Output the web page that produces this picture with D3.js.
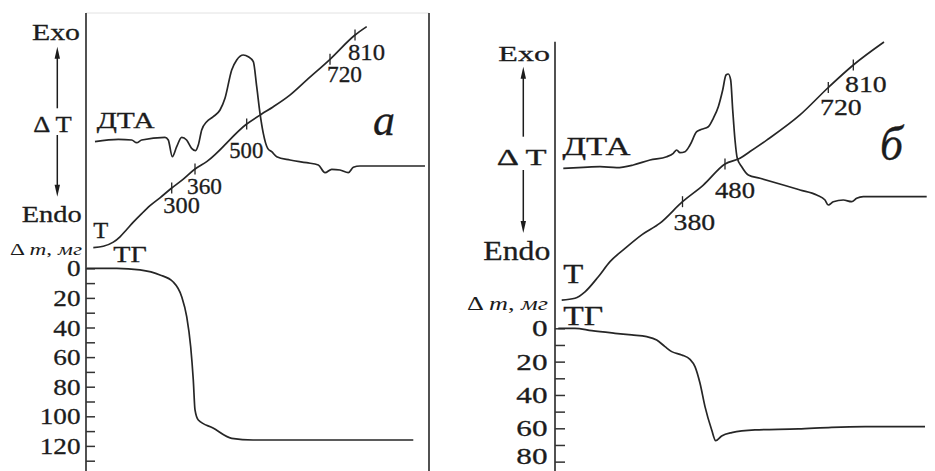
<!DOCTYPE html>
<html><head><meta charset="utf-8">
<script src="https://cdn.jsdelivr.net/npm/d3@7"></script>
<style>html,body{margin:0;padding:0;background:#fff;} svg{display:block}</style>
</head><body>
<svg id="chart" width="935" height="471"></svg>
<script>
// ---------------- DATA (time in relative minutes 0..100) ----------------
// Panel a
const dtaA = [[2.62,5.52],[9.42,6.07],[13.32,5.91],[14.78,5.30],[16.24,5.91],[23.03,6.52],[23.99,5.91],[25.16,2.11],[26.44,4.39],[27.90,6.52],[29.33,5.91],[30.79,4.02],[31.95,3.48],[32.74,4.77],[33.73,8.18],[35.19,10.07],[37.11,11.20],[39.07,12.73],[40.52,15.39],[42.48,21.82],[43.94,24.09],[45.86,25.23],[47.32,24.84],[48.78,23.70],[49.77,18.02],[50.73,11.98],[51.69,7.43],[52.97,4.02],[54.14,3.25],[55.60,2.11],[59.48,1.36],[64.34,0.75],[67.73,0.23],[69.68,-1.52],[71.63,-0.75],[74.05,-0.91],[76.47,-1.52],[77.93,-0.30],[79.88,0],[98.83,0]];
const tempA = [[2.13,112],[5.04,116],[7.96,129],[9.91,146],[11.87,169],[13.79,192],[16.24,219],[18.66,244],[21.57,269],[24.99,300],[28.37,328],[31.78,360],[35.19,383],[46.85,500],[51.22,534],[54.52,558],[59.53,599],[64.40,650],[71.14,720],[78.43,810],[81.84,841]];
const tgA = [[0.2,0],[8.95,0],[15.74,1.1],[21.57,4.5],[25.36,9.1],[27.90,19.2],[29.36,32.7],[30.52,53.0],[31.28,75.5],[31.78,95.7],[32.74,102.5],[37.03,107.9],[42.48,114.9],[48.69,116.0],[95.42,116.0]];
const tempTicksA = [300,360,500,720,810];
const tgTicksA = [0,20,40,60,80,100,120];
const tgMinorA = [10,30,50,70,90,110,130];

// Panel б
const dtaB = [[2.21,5.79],[7.55,5.99],[12.0,6.11],[16.45,5.91],[20.88,6.46],[25.33,7.48],[29.79,8.15],[31.55,8.84],[32.45,9.52],[33.33,8.96],[34.67,9.17],[36.0,10.53],[37.79,13.24],[39.12,13.73],[40.88,14.26],[42.21,15.97],[43.55,18.34],[44.72,21.74],[45.6,24.80],[46.21,25.0],[46.85,23.78],[47.39,17.66],[48.0,11.55],[48.61,7.82],[49.79,6.11],[51.55,4.42],[54.67,3.75],[60.88,2.38],[65.33,1.37],[69.79,0.35],[72.0,-0.67],[72.88,-1.69],[74.21,-1.02],[76.88,-0.67],[79.12,-1.02],[80.45,-0.33],[82.21,0],[99.12,0]];
const tempB = [[1.79,119],[5.33,124],[8.0,141],[11.55,181],[14.67,221],[18.67,256],[23.12,292],[28.0,323],[34.0,380],[39.55,424],[45.33,480],[49.33,498],[52.0,519],[56.45,555],[65.33,634],[72.88,720],[79.55,810],[87.73,902]];
const tgB = [[0.88,0],[5.33,0],[9.79,1.44],[16.0,3.0],[20.45,4.0],[24.45,5.0],[27.12,7.0],[29.33,11.0],[31.12,14.0],[33.79,16.0],[36.0,18.6],[37.33,23.0],[38.67,33.0],[40.0,47.0],[41.79,61.0],[42.85,67.4],[44.45,64.6],[47.12,62.6],[53.33,61.0],[64.88,60.4],[73.79,59.4],[82.67,59.0],[98.67,59.0]];
const tempTicksB = [380,480,720,810];
const tgTicksB = [0,20,40,60,80];
const tgMinorB = [10,30,50,70];

// ---------------- LAYOUT ----------------
const svg = d3.select('#chart');
const FONT = '"Liberation Serif","Times New Roman",serif';
const INK = '#1c1c1c';

function txt(g, s, x, y, fs, w, italic) {
  const t = g.append('text').attr('x', x).attr('y', y).attr('font-size', fs)
    .attr('font-family', FONT).attr('fill', INK)
    .attr('stroke', INK).attr('stroke-width', 0.3);
  if (w) t.attr('textLength', w).attr('lengthAdjust', 'spacingAndGlyphs');
  if (italic) t.attr('font-style', 'italic');
  t.text(s);
  return t;
}
function dmLabel(g, x, y, fs, w) {
  const t = g.append('text').attr('x', x).attr('y', y).attr('font-size', fs)
    .attr('font-family', FONT).attr('fill', INK)
    .attr('textLength', w).attr('lengthAdjust', 'spacingAndGlyphs');
  t.append('tspan').text('\u0394 ');
  t.append('tspan').attr('font-style', 'italic').text('m');
  t.append('tspan').text(', ');
  t.append('tspan').attr('font-style', 'italic').text('\u043c\u0433');
}
function arrow(g, x, y1, y2) { // from y1 (base) to y2 (tip)
  const dir = y2 > y1 ? 1 : -1;
  g.append('line').attr('x1', x).attr('x2', x).attr('y1', y1).attr('y2', y2 - dir * 8)
    .attr('stroke', INK).attr('stroke-width', 1.5);
  g.append('path').attr('d', `M${x},${y2} L${x - 2.7},${y2 - dir * 12} L${x + 2.7},${y2 - dir * 12} Z`)
    .attr('fill', INK);
}

function panel(cfg) {
  const g = svg.append('g');
  const x = d3.scaleLinear().domain([0, 100]).range(cfg.xRange);
  const yD = d3.scaleLinear().domain([0, 25]).range(cfg.dtaRange);
  const yT = d3.scaleLinear().domain(cfg.tDomain).range(cfg.tRange);
  const yG = d3.scaleLinear().domain(cfg.tgDomain).range(cfg.tgRange);
  const line = (ys) => d3.line().x(d => x(d[0])).y(d => ys(d[1])).curve(d3.curveMonotoneX);

  // frame lines
  if (cfg.topLine) g.append('line').attr('x1', cfg.xRange[0]).attr('x2', cfg.rightLine).attr('y1', cfg.axisTop).attr('y2', cfg.axisTop)
    .attr('stroke', '#e2e2e2').attr('stroke-width', 1);
  g.append('line').attr('x1', cfg.xRange[0]).attr('x2', cfg.xRange[0]).attr('y1', cfg.axisTop).attr('y2', 471)
    .attr('stroke', '#333').attr('stroke-width', 1.7);
  if (cfg.rightLine) g.append('line').attr('x1', cfg.rightLine).attr('x2', cfg.rightLine).attr('y1', cfg.axisTop).attr('y2', 471)
    .attr('stroke', '#333').attr('stroke-width', 1.7);

  // TG axis (ticks to the right of the axis line)
  const axis = d3.axisRight(yG).tickValues(cfg.tgTicks.concat(cfg.tgMinor)).tickSize(cfg.tickLen).tickFormat('');
  const ag = g.append('g').attr('transform', `translate(${cfg.xRange[0]},0)`).call(axis);
  ag.select('.domain').remove();
  ag.selectAll('.tick line').attr('stroke', '#333').attr('stroke-width', 1.5);
  cfg.tgTicks.forEach(v => {
    const s = String(v);
    const w = s.length * cfg.digitW;
    txt(g, s, cfg.tgLabelRight - w, Math.min(yG(v) + cfg.tgLabelDy, cfg.maxBase), cfg.numFs, w);
  });

  // curves
  const stroke = (p) => p.attr('fill', 'none').attr('stroke', '#262626').attr('stroke-width', 1.7).attr('stroke-linejoin', 'round');
  stroke(g.append('path').datum(cfg.dta).attr('d', line(yD)));
  stroke(g.append('path').datum(cfg.temp).attr('d', line(yT)));
  stroke(g.append('path').datum(cfg.tg).attr('d', line(yG)));

  // temperature ticks on the T curve
  const ts = cfg.temp.map(d => d[0]), vs = cfg.temp.map(d => d[1]);
  const tAt = d3.scaleLinear().domain(vs).range(ts);
  cfg.tempTicks.forEach((T, i) => {
    const px = x(tAt(T)), py = yT(T);
    g.append('line').attr('x1', px).attr('x2', px).attr('y1', py - 5.5).attr('y2', py + 5.5)
      .attr('stroke', '#262626').attr('stroke-width', 1.3);
    const o = cfg.tempLabelOff[i];
    txt(g, String(T), px + o[0], py + o[1], cfg.numFs, o[2]);
  });

  // text labels
  cfg.labels.forEach(l => txt(g, l[0], l[1], l[2], l[3], l[4], l[5]));
  dmLabel(g, ...cfg.dm);
  arrow(g, cfg.arrowX, cfg.arrowUp[0], cfg.arrowUp[1]);
  arrow(g, cfg.arrowX, cfg.arrowDown[0], cfg.arrowDown[1]);
}

panel({
  xRange: [86, 429], axisTop: 13, rightLine: 429, topLine: true,
  dtaRange: [166, 56],
  tDomain: [300, 360, 500, 720, 810], tRange: [188, 169, 124, 59.3, 35],
  tgDomain: [0, 130], tgRange: [268.3, 460.7],
  tgTicks: tgTicksA, tgMinor: tgMinorA, tickLen: 9,
  tgLabelRight: 80.5, tgLabelDy: 8, maxBase: 468, numFs: 23, digitW: 13.6,
  dta: dtaA, temp: tempA, tg: tgA, tempTicks: tempTicksA,
  tempLabelOff: [[-8.4, 25.3, 36.5], [-8, 24.8, 35], [-17.4, 34.3, 34], [-3, 23, 35], [-7, 25.3, 37]],
  labels: [
    ['Exo', 32, 40, 24, 48], ['\u0394 T', 33.3, 131.5, 24, 38.5], ['Endo', 21.7, 221.5, 24, 60],
    ['\u0414\u0422\u0410', 96.7, 128, 23, 58], ['T', 93.3, 238.3, 23, 15], ['\u0422\u0413', 113.3, 261.7, 23, 33.5],
    ['\u0430', 373, 135, 44, 22, true]
  ],
  dm: [10, 254.5, 17, 72],
  arrowX: 57.3, arrowUp: [108.3, 46.7], arrowDown: [135, 196.7]
});

panel({
  xRange: [555, 930], axisTop: 41.7, rightLine: null, topLine: false,
  dtaRange: [196.7, 74],
  tDomain: [380, 480, 720, 810], tRange: [201.7, 164, 87.5, 65],
  tgDomain: [0, 90], tgRange: [328.3, 478.3],
  tgTicks: tgTicksB, tgMinor: tgMinorB, tickLen: 10,
  tgLabelRight: 547.5, tgLabelDy: 8, maxBase: 464, numFs: 24, digitW: 15.6,
  dta: dtaB, temp: tempB, tg: tgB, tempTicks: tempTicksB,
  tempLabelOff: [[-9, 28.5, 41.7], [-10, 34.3, 40], [-8.3, 27.8, 41.7], [-8.3, 27.3, 41.7]],
  labels: [
    ['Exo', 498.3, 61, 22, 51.7], ['\u0394 T', 496.7, 165, 24, 50], ['Endo', 483.3, 259.5, 27, 67],
    ['\u0414\u0422\u0410', 562.5, 154.5, 25, 68], ['T', 563.3, 283, 28, 20], ['\u0422\u0413', 563.3, 325, 28, 40],
    ['\u0431', 880, 160, 48, 23, true]
  ],
  dm: [467, 310, 18, 81],
  arrowX: 523.3, arrowUp: [136.7, 66.7], arrowDown: [170, 233]
});
</script>
</body></html>
